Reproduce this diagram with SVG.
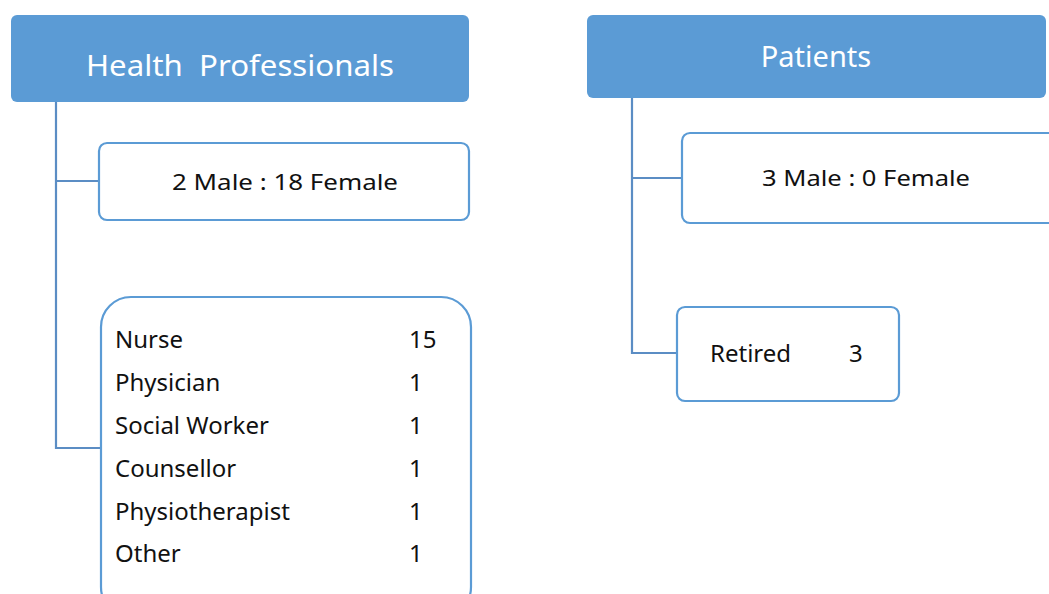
<svg xmlns="http://www.w3.org/2000/svg" width="1049" height="594" viewBox="0 0 1049 594">
  <style>
    .hdr { fill: #5B9BD5; }
    .box { fill: #FFFFFF; stroke: #5B9BD5; stroke-width: 2.2; }
    .wire { fill: none; stroke: #5B8DC4; stroke-width: 2.2; }
    .ht { font-family: "Noto Sans", "Liberation Sans", sans-serif; font-size: 29px; fill: #FFFFFF; text-anchor: middle; }
    .t { font-family: "Noto Sans", "Liberation Sans", sans-serif; font-size: 22px; fill: #111111; }
    .l { font-size: 24px; }
    .c { text-anchor: middle; }
  </style>
  <rect width="1049" height="594" fill="#FFFFFF"/>

  <g id="connectors">
    <polyline class="wire" points="56,102 56,448 101,448"/>
    <line class="wire" x1="56" y1="181" x2="99" y2="181"/>
    <polyline class="wire" points="632,98 632,353 677,353"/>
    <line class="wire" x1="632" y1="178" x2="682" y2="178"/>
  </g>

  <g id="health-professionals">
    <rect class="hdr" x="11" y="15" width="458" height="87" rx="6"/>
    <text class="ht" x="240" y="76" textLength="308" lengthAdjust="spacingAndGlyphs">Health&#160; Professionals</text>
  </g>

  <g id="hp-gender">
    <rect class="box" x="99" y="143" width="370" height="77" rx="8"/>
    <text class="t c" x="285" y="190" textLength="226" lengthAdjust="spacingAndGlyphs">2 Male : 18 Female</text>
  </g>

  <g id="hp-roles">
    <rect class="box" x="101" y="297" width="370" height="320" rx="30"/>
    <text class="t l" x="115" y="348">Nurse</text>
    <text class="t l" x="409" y="348">15</text>
    <text class="t l" x="115" y="391">Physician</text>
    <text class="t l" x="409" y="391">1</text>
    <text class="t l" x="115" y="434">Social Worker</text>
    <text class="t l" x="409" y="434">1</text>
    <text class="t l" x="115" y="477">Counsellor</text>
    <text class="t l" x="409" y="477">1</text>
    <text class="t l" x="115" y="520">Physiotherapist</text>
    <text class="t l" x="409" y="520">1</text>
    <text class="t l" x="115" y="562">Other</text>
    <text class="t l" x="409" y="562">1</text>
  </g>

  <g id="patients">
    <rect class="hdr" x="587" y="15" width="459" height="83" rx="6"/>
    <text class="ht" x="816" y="67">Patients</text>
  </g>

  <g id="pt-gender">
    <rect class="box" x="682" y="133" width="375" height="90" rx="8"/>
    <text class="t c" x="866" y="186" textLength="208" lengthAdjust="spacingAndGlyphs">3 Male : 0 Female</text>
  </g>

  <g id="pt-status">
    <rect class="box" x="677" y="307" width="222" height="94" rx="8"/>
    <text class="t l" x="710" y="362">Retired</text>
    <text class="t l" x="849" y="362">3</text>
  </g>
</svg>
